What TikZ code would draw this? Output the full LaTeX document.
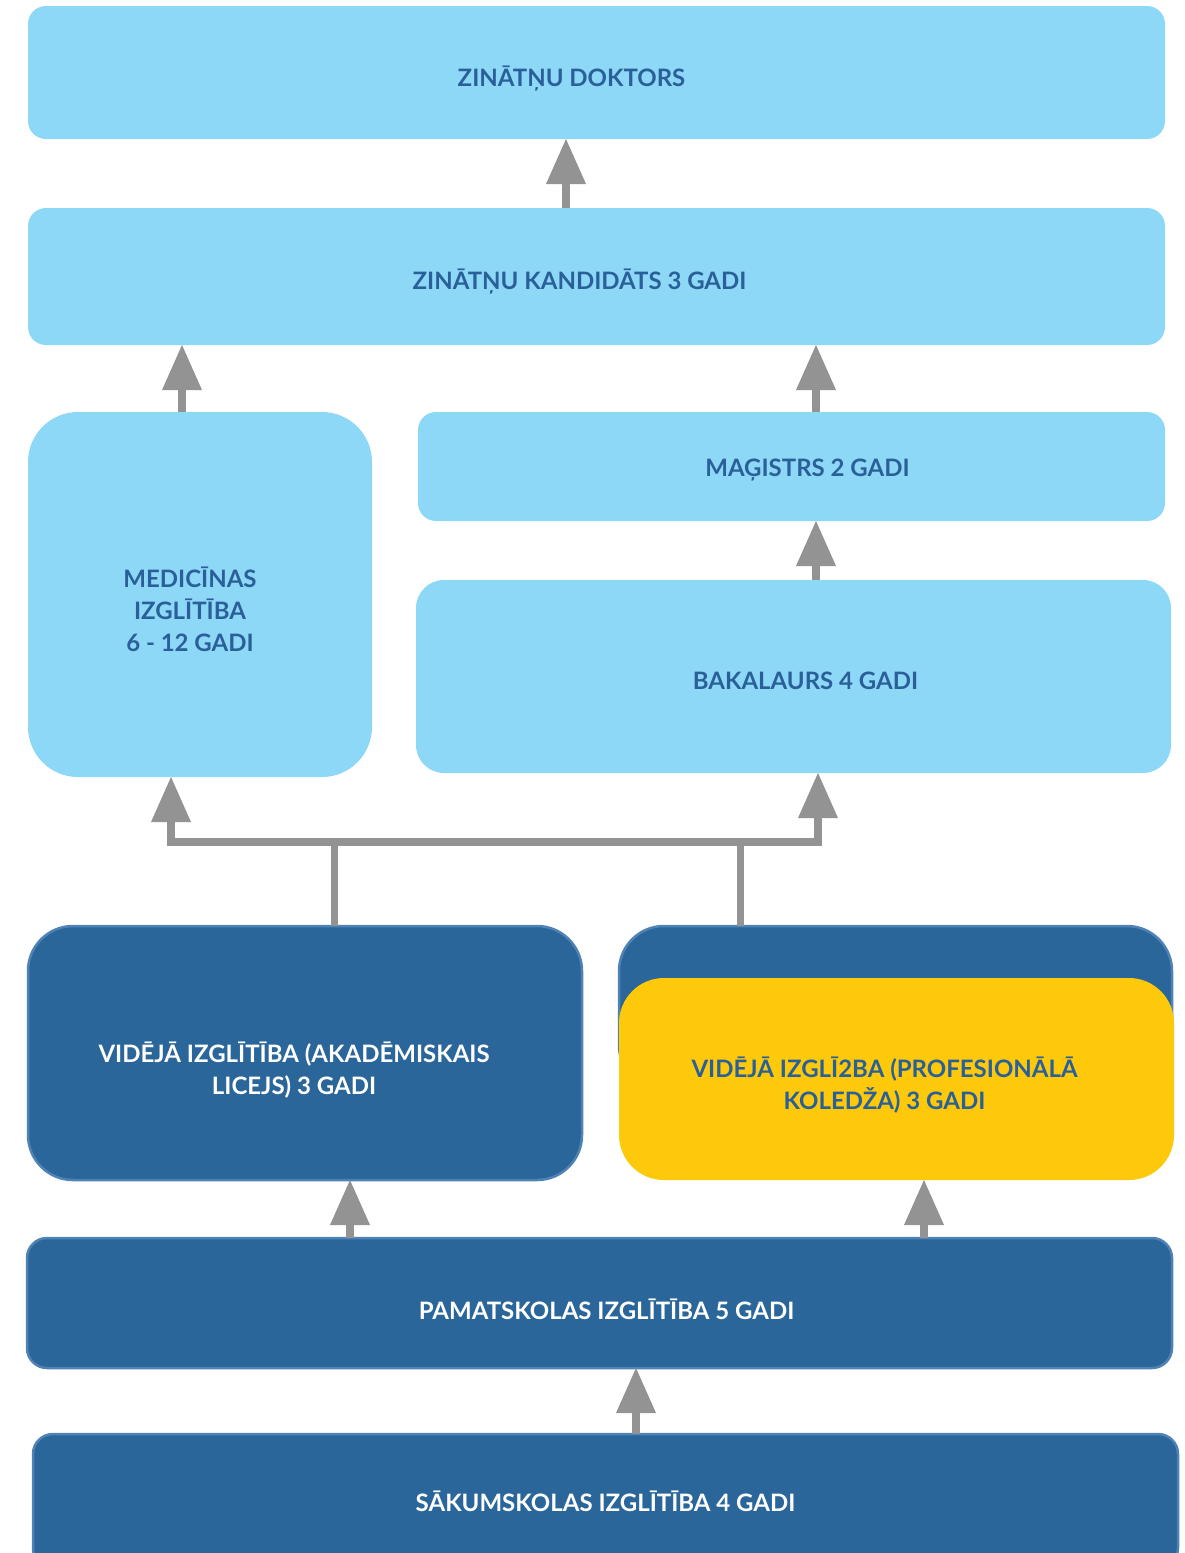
\documentclass[tikz,border=0pt]{standalone}
\usepackage{fontspec}
\setmainfont{Lato}
\usetikzlibrary{arrows.meta}
\definecolor{lightbl}{HTML}{8ED8F7}
\definecolor{textbl}{HTML}{2A6099}
\definecolor{darkbl}{HTML}{2A6699}
\definecolor{edgebl}{HTML}{4F83B5}
\definecolor{yell}{HTML}{FDC90A}
\definecolor{arrgray}{HTML}{939393}

\begin{document}
\begin{tikzpicture}[x=1pt,y=-1pt,
  box/.style={rectangle,rounded corners=18pt,inner sep=0pt,outer sep=0pt},
  lbox/.style={box,fill=lightbl},
  dbox/.style={box,fill=darkbl,draw=edgebl,line width=2.5pt},
  ybox/.style={box,fill=yell},
  every label/.style={inner sep=0pt,align=center,font=\bfseries\fontsize{24}{32}\selectfont},
  lt/.style={text=textbl},
  dt/.style={text=white},
  arr/.style={draw=arrgray,line width=7.5pt,-{Triangle[width=40pt,length=45pt,line width=0pt]}},
  tree/.style={draw=arrgray,line width=7.5pt,{Triangle[width=40pt,length=45pt,line width=0pt]}-{Triangle[width=40pt,length=45pt,line width=0pt]}},
  line/.style={draw=arrgray,line width=7pt}]
	\clip (0,0) rectangle (1185,1553);
	
	\node[lbox,minimum width=1137pt,minimum height=133pt,label={[lt,xshift=-25pt,yshift=-6pt]center:ZINĀTŅU DOKTORS}] (dokt) at (596.5,72.5) {};
	\node[lbox,minimum width=1137pt,minimum height=137pt,label={[lt,xshift=-17pt,yshift=-5pt]center:ZINĀTŅU KANDIDĀTS 3 GADI}] (kand) at (596.5,276.5) {};
	\node[lbox,rounded corners=50pt,minimum width=344pt,minimum height=365pt,label={[lt,xshift=-10pt,yshift=-15pt]center:MEDICĪNAS\\IZGLĪTĪBA\\6 - 12 GADI}] (med) at (200,594.5) {};
	\node[lbox,minimum width=747pt,minimum height=109pt,label={[lt,xshift=16pt,yshift=-4pt]center:MAĢISTRS 2 GADI}] (mag) at (791.5,466.5) {};
	\node[lbox,rounded corners=28pt,minimum width=755pt,minimum height=193pt,label={[lt,xshift=12pt,yshift=-4pt]center:BAKALAURS 4 GADI}] (bak) at (793.5,676.5) {};
	\node[dbox,rounded corners=45pt,minimum width=554pt,minimum height=254pt,label={[dt,xshift=-11pt,yshift=-17pt]center:VIDĒJĀ IZGLĪTĪBA (AKADĒMISKAIS\\LICEJS) 3 GADI}] (akad) at (305,1053) {};
	\node[dbox,rounded corners=45pt,minimum width=553pt,minimum height=164pt] (profb) at (895.5,1008) {};
	\node[ybox,rounded corners=45pt,minimum width=555pt,minimum height=202pt,label={[lt,xshift=-12pt,yshift=-6pt]center:VIDĒJĀ IZGLĪ2BA (PROFESIONĀLĀ\\KOLEDŽA) 3 GADI}] (prof) at (896.5,1079) {};
	\node[dbox,rounded corners=20pt,minimum width=1145pt,minimum height=130pt,label={[dt,xshift=7pt,yshift=-6pt]center:PAMATSKOLAS IZGLĪTĪBA 5 GADI}] (pamat) at (599.5,1303) {};
	\node[dbox,rounded corners=20pt,minimum width=1145pt,minimum height=134pt,label={[dt]center:SĀKUMSKOLAS IZGLĪTĪBA 4 GADI}] (sakum) at (605.5,1501) {};
	
	\coordinate (jl) at (171,842);
	\coordinate (jr) at (818,842);
	
	\draw[arr] (kand.north -| 566,0) -- (dokt.south -| 566,0);
	\draw[arr] (med.north -| 182,0) -- (kand.south -| 182,0);
	\draw[arr] (mag.north -| 816,0) -- (kand.south -| 816,0);
	\draw[arr] (bak.north -| 816,0) -- (mag.south -| 816,0);
	\draw[line] (akad.north -| 334,0) -- (jl -| 334,0);
	\draw[line] (profb.north -| 740,0) -- (jl -| 740,0);
	\draw[tree] (med.south -| jl) -- (jl) -- (jr) -- (bak.south -| jr);
	\draw[arr] (pamat.north -| 350,0) -- (akad.south -| 350,0);
	\draw[arr] (pamat.north -| 924,0) -- (prof.south -| 924,0);
	\draw[arr] (sakum.north -| 636,0) -- (pamat.south -| 636,0);
\end{tikzpicture}
\end{document}
